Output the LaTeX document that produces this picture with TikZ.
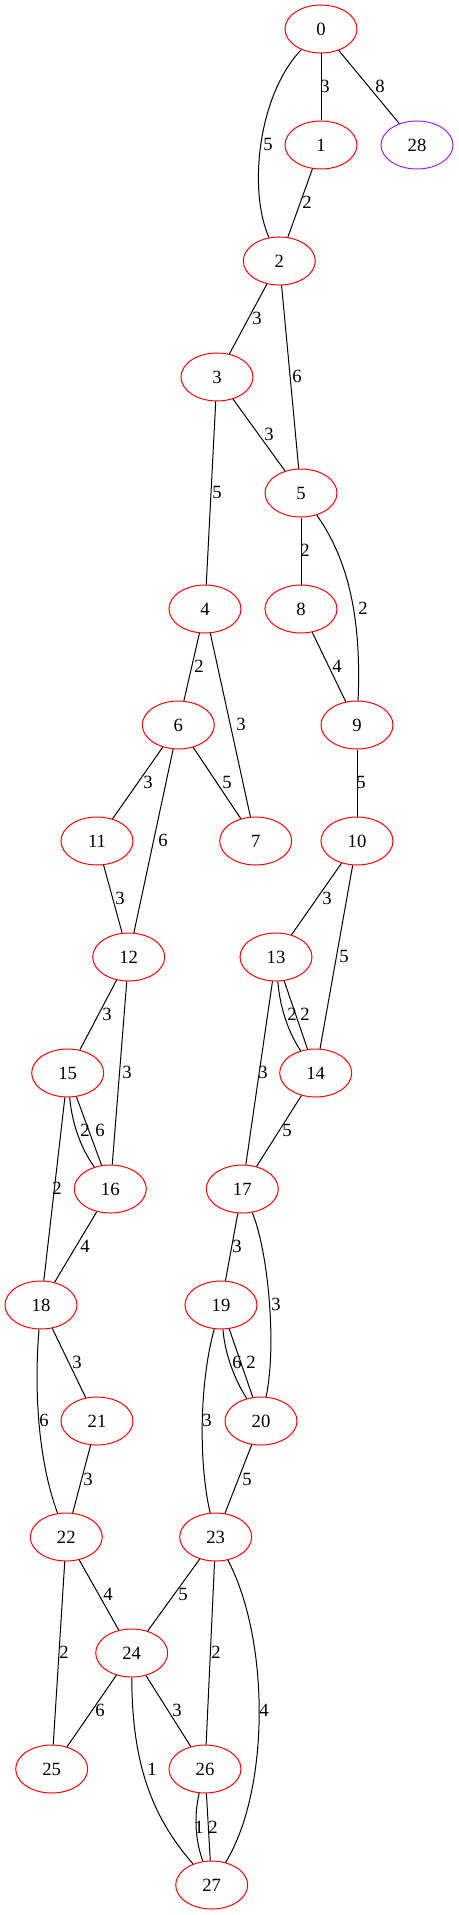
\documentclass[tikz,border=0pt]{standalone}
\usepackage{fontspec}
\setmainfont{Liberation Serif}
\usetikzlibrary{shapes.geometric}
\definecolor{gvpurple}{HTML}{A020F0}
\begin{document}
\begin{tikzpicture}[x=0.75pt,y=-0.75pt,
  gnode/.style={ellipse, draw=red, line width=0.75pt, minimum width=54pt, minimum height=36pt, inner sep=0pt, font=\fontsize{14}{16}\selectfont},
  pnode/.style={gnode, draw=gvpurple},
  lab/.style={inner sep=0pt, font=\fontsize{14}{16}\selectfont},
  conn/.style={draw=black, line width=0.75pt}]
\useasboundingbox (0,0) rectangle (459,1915);
% nodes
\node[gnode] (n0) at (321,29) {0};
\node[gnode] (n1) at (321,145) {1};
\node[pnode] (n28) at (417,145) {28};
\node[gnode] (n2) at (279.3,261) {2};
\node[gnode] (n3) at (217,377) {3};
\node[gnode] (n5) at (301,493) {5};
\node[gnode] (n4) at (205,609) {4};
\node[gnode] (n8) at (301,609) {8};
\node[gnode] (n6) at (178.3,725) {6};
\node[gnode] (n9) at (357,725) {9};
\node[gnode] (n11) at (97,841) {11};
\node[gnode] (n7) at (255.7,841) {7};
\node[gnode] (n10) at (357,841) {10};
\node[gnode] (n12) at (128.7,957) {12};
\node[gnode] (n13) at (276,957) {13};
\node[gnode] (n15) at (67.7,1073) {15};
\node[gnode] (n14) at (315.7,1073) {14};
\node[gnode] (n16) at (110.3,1189) {16};
\node[gnode] (n17) at (242.3,1189) {17};
\node[gnode] (n18) at (41,1305) {18};
\node[gnode] (n19) at (221,1305) {19};
\node[gnode] (n21) at (97,1421) {21};
\node[gnode] (n20) at (261,1421) {20};
\node[gnode] (n22) at (66.3,1537) {22};
\node[gnode] (n23) at (215.7,1537) {23};
\node[gnode] (n24) at (131.7,1653) {24};
\node[gnode] (n25) at (51.7,1769) {25};
\node[gnode] (n26) at (205,1769) {26};
\node[gnode] (n27) at (211.7,1885) {27};
% edges
\draw[conn] (n0) -- (n1);
\draw[conn] (n0) -- (n28);
\draw[conn] (n0) .. controls (258,95) and (248,190) .. (n2);
\draw[conn] (n1) -- (n2);
\draw[conn] (n2) -- (n3);
\draw[conn] (n2) -- (n5);
\draw[conn] (n3) -- (n5);
\draw[conn] (n3) -- (n4);
\draw[conn] (n5) -- (n8);
\draw[conn] (n5) .. controls (345,555) and (362,610) .. (n9);
\draw[conn] (n4) -- (n6);
\draw[conn] (n4) -- (n7);
\draw[conn] (n8) -- (n9);
\draw[conn] (n6) -- (n11);
\draw[conn] (n6) -- (n7);
\draw[conn] (n6) -- (n12);
\draw[conn] (n9) -- (n10);
\draw[conn] (n11) -- (n12);
\draw[conn] (n10) -- (n13);
\draw[conn] (n10) -- (n14);
\draw[conn] (n12) -- (n15);
\draw[conn] (n12) -- (n16);
\draw[conn] (n13) .. controls (280,1010) and (290,1035) .. (n14);
\draw[conn] (n13) -- (n14);
\draw[conn] (n13) -- (n17);
\draw[conn] (n14) -- (n17);
\draw[conn] (n15) .. controls (72,1125) and (82,1150) .. (n16);
\draw[conn] (n15) -- (n16);
\draw[conn] (n15) -- (n18);
\draw[conn] (n16) -- (n18);
\draw[conn] (n17) -- (n19);
\draw[conn] (n17) .. controls (268,1250) and (277,1345) .. (n20);
\draw[conn] (n18) -- (n21);
\draw[conn] (n18) .. controls (34,1390) and (38,1460) .. (n22);
\draw[conn] (n19) .. controls (225,1355) and (235,1380) .. (n20);
\draw[conn] (n19) -- (n20);
\draw[conn] (n19) .. controls (200,1380) and (198,1460) .. (n23);
\draw[conn] (n21) -- (n22);
\draw[conn] (n20) -- (n23);
\draw[conn] (n22) -- (n24);
\draw[conn] (n23) -- (n24);
\draw[conn] (n22) -- (n25);
\draw[conn] (n23) -- (n26);
\draw[conn] (n23) .. controls (270,1640) and (270,1790) .. (n27);
\draw[conn] (n24) -- (n25);
\draw[conn] (n24) -- (n26);
\draw[conn] (n24) .. controls (132,1760) and (150,1815) .. (n27);
\draw[conn] (n26) .. controls (194,1815) and (195,1840) .. (n27);
\draw[conn] (n26) -- (n27);
% labels
\node[lab] (l0-1) at (325,86) {3};
\node[lab] (l0-28) at (380,86) {8};
\node[lab] (l0-2) at (268,144) {5};
\node[lab] (l1-2) at (307,202) {2};
\node[lab] (l2-3) at (257,318) {3};
\node[lab] (l2-5) at (297,376) {6};
\node[lab] (l3-5) at (269,434) {3};
\node[lab] (l3-4) at (217,492) {5};
\node[lab] (l5-8) at (305,550) {2};
\node[lab] (l5-9) at (363,608) {2};
\node[lab] (l4-6) at (199,666) {2};
\node[lab] (l4-7) at (241,724) {3};
\node[lab] (l8-9) at (337,666) {4};
\node[lab] (l6-11) at (148,782) {3};
\node[lab] (l6-7) at (227,782) {5};
\node[lab] (l6-12) at (163,840) {6};
\node[lab] (l9-10) at (361,782) {5};
\node[lab] (l11-12) at (120,898) {3};
\node[lab] (l10-13) at (327,898) {3};
\node[lab] (l10-14) at (344,956) {5};
\node[lab] (l12-15) at (107,1014) {3};
\node[lab] (l12-16) at (127,1072) {3};
\node[lab] (l13-14a) at (292,1014) {2};
\node[lab] (l13-14b) at (305,1014) {2};
\node[lab] (l13-17) at (263,1072) {3};
\node[lab] (l14-17) at (287,1130) {5};
\node[lab] (l15-16a) at (85,1130) {2};
\node[lab] (l15-16b) at (100,1130) {6};
\node[lab] (l15-18) at (57,1188) {2};
\node[lab] (l16-18) at (85,1246) {4};
\node[lab] (l17-19) at (237,1246) {3};
\node[lab] (l17-20) at (276,1304) {3};
\node[lab] (l18-21) at (77,1362) {3};
\node[lab] (l18-22) at (44,1420) {6};
\node[lab] (l19-20a) at (237,1362) {6};
\node[lab] (l19-20b) at (251,1362) {2};
\node[lab] (l19-23) at (207,1420) {3};
\node[lab] (l21-22) at (88,1479) {3};
\node[lab] (l20-23) at (247,1479) {5};
\node[lab] (l22-24) at (108,1594) {4};
\node[lab] (l23-24) at (183,1594) {5};
\node[lab] (l22-25) at (64,1652) {2};
\node[lab] (l23-26) at (216,1652) {2};
\node[lab] (l23-27) at (264,1710) {4};
\node[lab] (l24-25) at (100,1710) {6};
\node[lab] (l24-26) at (177,1710) {3};
\node[lab] (l24-27) at (152,1769) {1};
\node[lab] (l26-27a) at (199,1827) {1};
\node[lab] (l26-27b) at (213,1827) {2};
\end{tikzpicture}
\end{document}
